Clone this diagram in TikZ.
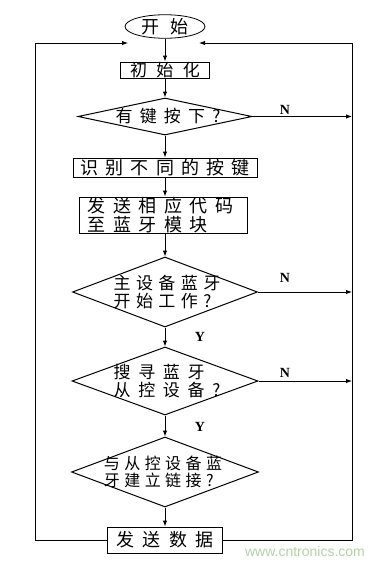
\documentclass[tikz,border=0pt]{standalone}
\usepackage{fontspec}
\setmainfont{Liberation Serif}
\newfontfamily\cjk{Noto Sans CJK SC}
\newfontfamily\wmfont{Liberation Sans}
\usetikzlibrary{shapes.geometric,arrows.meta}
\definecolor{wmgreen}{RGB}{176,212,164}
\newcommand{\cjt}[2]{\cjk\fontsize{#1}{#1}\selectfont\addfontfeature{LetterSpace=#2}}
\tikzset{
  line/.style={line width=1pt},
  arr/.style={line, -{Latex[length=6pt,width=4.5pt]}},
  boxnode/.style={draw, line width=1pt, rectangle, inner sep=0pt},
  decision/.style={draw, line width=1pt, diamond, inner sep=0pt},
  startnode/.style={draw, line width=0.8pt, ellipse, inner sep=0pt},
  yn/.style={font=\bfseries\fontsize{14}{14}\selectfont},
}
\begin{document}
\begin{tikzpicture}[x=1pt,y=-1pt]
\useasboundingbox (0,0) rectangle (383,568);
% nodes
\node[startnode, minimum width=80pt, minimum height=23pt] (start) at (165,26.5) {\cjt{18}{60}开始};
\node[boxnode, minimum width=89pt, minimum height=16pt] (init) at (165,70) {\cjt{17}{55}初始化};
\node[decision, minimum width=174pt, minimum height=37pt] (d1) at (165,116.5) {};
\node (d1t) at (168,116.5) {\cjt{17}{42}有键按下?};
\node[boxnode, minimum width=184pt, minimum height=19pt] (b2) at (165,167.5) {\cjt{18}{40}识别不同的按键};
\node[boxnode, minimum width=168pt, minimum height=36pt] (b3) at (163,215) {};
\node[anchor=west, align=left] (b3t) at (84,215) {\cjt{18}{42}发送相应代码\\[1.5pt]\cjt{18}{42}至蓝牙模块};
\node[decision, minimum width=185pt, minimum height=70pt] (d2) at (165,292) {};
\node[align=left] (d2t) at (167,292) {\cjt{17}{32}主设备蓝牙\\[2pt]\cjt{17}{32}开始工作?};
\node[decision, minimum width=186pt, minimum height=68pt] (d3) at (165,381) {};
\node[align=left] (d3t) at (167,381) {\cjt{17}{45}搜寻蓝牙\\[2pt]\cjt{17}{45}从控设备?};
\node[decision, minimum width=187pt, minimum height=70pt] (d4) at (165,472) {};
\node[align=left] (d4t) at (163,472) {\cjt{16}{28}与从控设备蓝\\[1pt]\cjt{16}{28}牙建立链接?};
\node[boxnode, minimum width=115pt, minimum height=26pt] (b4) at (165,540) {\cjt{18}{45}发送数据};
% loop coordinates
\coordinate (TL) at (35,43);
\coordinate (TR) at (352,43);
\coordinate (LA) at (128,43);
\coordinate (RA) at (199,43);
\coordinate (BL) at (35,540);
\coordinate (BR) at (352,540);
% main flow
\draw[arr] (start) -- (init);
\draw[arr] (init) -- (d1);
\draw[arr] (d1) -- (b2);
\draw[arr] (b2) -- (b3.north -| b2.south);
\draw[arr] (b3.south -| d2.north) -- (d2);
\draw[arr] (d2) -- (d3);
\draw[arr] (d3) -- (d4);
\draw[arr] (d4) -- (b4);
% loops
\draw[arr] (b4.west) -- (BL) -- (TL) -- (LA);
\draw[arr] (b4.east) -- (BR) -- (TR) -- (RA);
\draw[arr] (d1.east) -- (d1.east -| TR);
\draw[arr] (d2.east) -- (d2.east -| TR);
\draw[arr] (d3.east) -- (d3.east -| TR);
% labels
\node[yn] (n1) at (285,110) {N};
\node[yn] (n2) at (285,278) {N};
\node[yn] (n3) at (285,373) {N};
\node[yn] (y1) at (200,337) {Y};
\node[yn] (y2) at (200,427) {Y};
\node[text=wmgreen, font=\wmfont\fontsize{14}{14}\selectfont] (wm) at (305,551) {www.cntronics.com};
\end{tikzpicture}
\end{document}
